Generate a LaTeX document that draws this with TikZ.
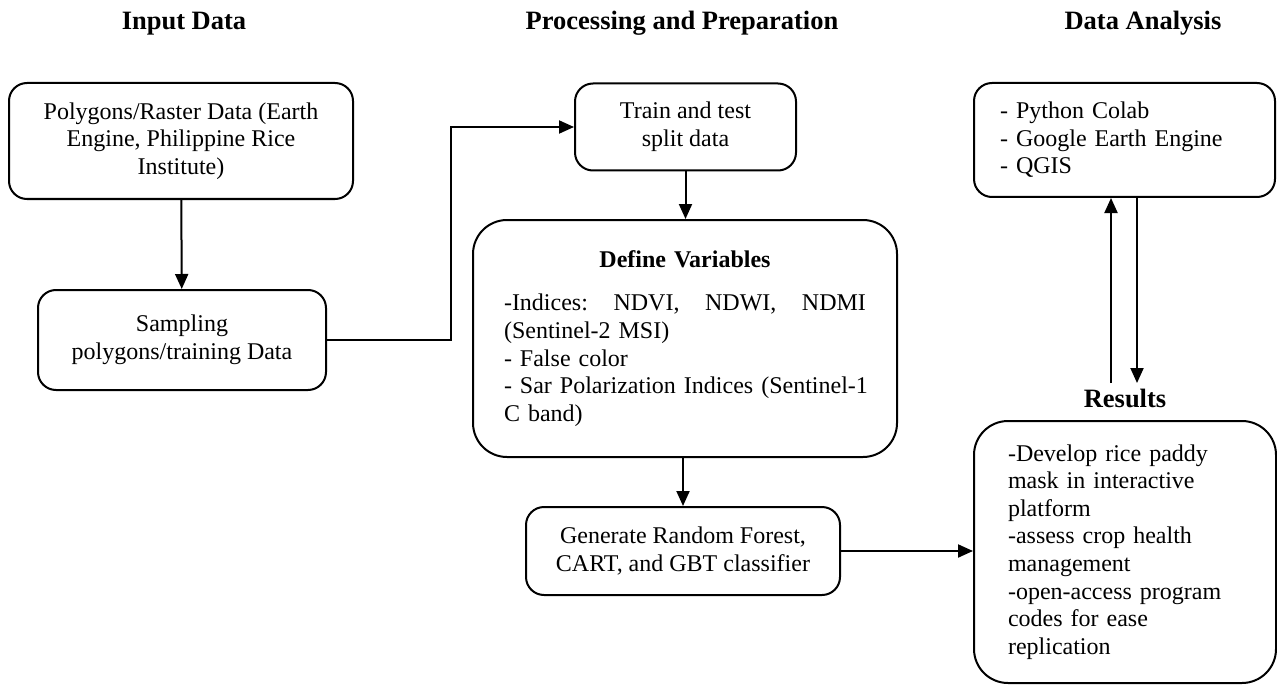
\documentclass[tikz,border=0pt]{standalone}
\usepackage{fontspec}
\setmainfont{Liberation Serif}
\usetikzlibrary{shapes.geometric, arrows.meta}
\tikzstyle{heading} = [font=\fontsize{13.25}{15}\selectfont\bfseries, anchor=base]
\tikzstyle{process} = [rectangle, rounded corners=9pt, draw=black, line width=1pt, align=center, font=\fontsize{12}{13.8}\selectfont]
\tikzstyle{block} = [process, rounded corners=17pt, align=left]
\tikzstyle{arrow} = [-{Triangle[length=7.5pt,width=6.5pt]}, line width=1pt]

\begin{document}
\begin{tikzpicture}[x=0.5pt, y=-0.5pt]
\useasboundingbox (0,0) rectangle (1277,684);
%column headings
\node[heading](hin) at (184,30){Input Data};
\node[heading](hproc) at (682,30){Processing and Preparation};
\node[heading](hana) at (1143,30){Data Analysis};
\node[heading](hres) at (1125,407){Results};
%boxes
\node[process, minimum width=172pt, minimum height=58pt](poly) at (181,141){Polygons/Raster Data (Earth\\Engine, Philippine Rice\\Institute)};
\node[process, minimum width=144pt, minimum height=50pt](sampling) at (182,340){Sampling\\polygons/training Data};
\node[process, minimum width=110.5pt, minimum height=43.5pt](split) at (685.5,127){Train and test\\split data};
\node[block, text width=181pt, minimum width=212pt, minimum height=118.5pt](define) at (685,338.5){\makebox[181pt]{\bfseries Define Variables}\\[8pt]-Indices:\hfill NDVI,\hfill NDWI,\hfill NDMI\\(Sentinel-2 MSI)\\- False color\\\mbox{- Sar Polarization Indices (Sentinel-1}\\C band)};
\node[process, minimum width=157pt, minimum height=44pt](generate) at (683,551){Generate Random Forest,\\CART, and GBT classifier};
\node[process, align=left, text width=124.5pt, minimum width=150.5pt, minimum height=57pt](tools) at (1124.5,140){- Python Colab\\- Google Earth Engine\\- QGIS};
\node[block, text width=117pt, minimum width=151pt, minimum height=131pt](results) at (1125,552){-Develop rice paddy\\mask in interactive\\platform\\-assess crop health\\management\\-open-access program\\codes for ease\\replication};
\coordinate (turn) at (451,240);
\coordinate (upfoot) at (1111,383);
\coordinate (downtip) at (1137,383);
%connectors
\draw [arrow] (poly) -- (sampling);
\draw [arrow] (sampling.east) -| (turn) |- (split.west);
\draw [arrow] (split) -- (split |- define.north);
\draw [arrow] (define.south -| generate) -- (generate);
\draw [arrow] (generate.east) -- (generate.east -| results.west);
\draw [arrow] (upfoot) -- (upfoot |- tools.south);
\draw [arrow] (downtip |- tools.south) -- (downtip);
\end{tikzpicture}
\end{document}
